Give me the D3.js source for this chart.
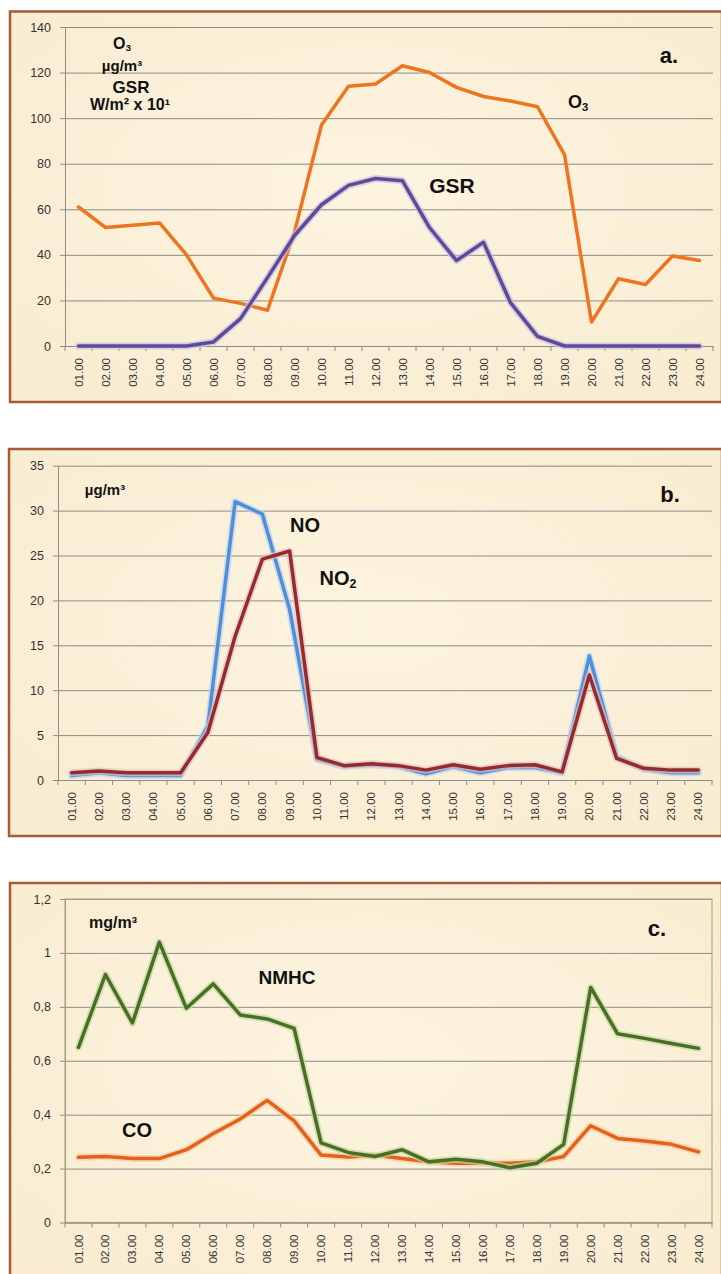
<!DOCTYPE html>
<html>
<head>
<meta charset="utf-8">
<script src="https://cdn.jsdelivr.net/npm/d3@7"></script>
<style>
body{margin:0;background:#fff;}
svg text{font-family:"Liberation Sans",Arial,sans-serif;}
</style>
</head>
<body>
<div id="chart"></div>
<script>
// hours of the day (x categories)
var hours = ["01.00","02.00","03.00","04.00","05.00","06.00","07.00","08.00","09.00","10.00","11.00","12.00",
             "13.00","14.00","15.00","16.00","17.00","18.00","19.00","20.00","21.00","22.00","23.00","24.00"];

// panel a: O3 (µg/m3) and GSR (W/m2 x 10)
var o3  = [61,52,53,54,40,21,18.7,15.7,50,97,114,115,123,120,113.5,109.5,107.5,105,84,10.5,29.5,27,39.5,37.5];
var gsr = [0,0,0,0,0,1.8,12,30,48.5,62,70.5,73.5,72.5,52,37.5,45.5,19,4.2,0,0,0,0,0,0];

// panel b: NO and NO2 (µg/m3)
var no  = [0.5,0.8,0.5,0.5,0.5,6,31,29.6,19,2.3,1.5,1.7,1.5,0.7,1.5,0.8,1.4,1.4,0.8,13.8,2.6,1.2,0.8,0.8];
var no2 = [0.8,1.0,0.8,0.8,0.8,5.3,16,24.6,25.5,2.5,1.6,1.8,1.6,1.1,1.7,1.2,1.6,1.7,0.9,11.7,2.4,1.3,1.1,1.1];

// panel c: NMHC and CO (mg/m3)
var nmhc = [0.65,0.92,0.74,1.04,0.795,0.885,0.77,0.755,0.72,0.295,0.26,0.245,0.27,0.225,0.235,0.225,0.203,0.22,0.29,0.872,0.70,0.683,0.664,0.646];
var co   = [0.242,0.245,0.237,0.237,0.27,0.33,0.384,0.453,0.377,0.25,0.243,0.25,0.237,0.225,0.22,0.22,0.22,0.225,0.245,0.359,0.312,0.302,0.29,0.262];

// y ticks
var ticksA = [0,20,40,60,80,100,120,140];
var ticksB = [0,5,10,15,20,25,30,35];
var ticksC = [0,0.2,0.4,0.6,0.8,1,1.2];

var svg = d3.select('#chart').append('svg')
    .attr('width',721)
    .attr('height',1274);

var defs = svg.append('defs');
var grad = defs.append('radialGradient').attr('id','paper').attr('cx','50%').attr('cy','45%').attr('r','75%');
grad.append('stop').attr('offset','0%').attr('stop-color','#fdf4e0');
grad.append('stop').attr('offset','100%').attr('stop-color','#f8ebcf');

var panels = [
  {frame:{x:10,y:11.5,w:712,h:390.5}, plot:{l:65,r:713,t:27,b:346}, ticks:ticksA, box:false,
   series:[{v:o3,color:'#ef7420',halo:null},
           {v:gsr,color:'#5e4b98',halo:'#c9bde6'}],
   labels:[{p:[['O'],['3',1]],x:122,y:49,s:16},
           {p:[['µg/m³']],x:122,y:71,s:15},
           {p:[['GSR']],x:131,y:93,s:17},
           {p:[['W/m² x 10¹']],x:130,y:110,s:16},
           {p:[['a.']],x:669,y:63,s:22},
           {p:[['O'],['3',1]],x:578,y:108,s:18},
           {p:[['GSR']],x:452,y:193,s:21}]},
  {frame:{x:9,y:449,w:713,h:387}, plot:{l:58,r:712,t:465.7,b:780}, ticks:ticksB, box:false,
   series:[{v:no,color:'#4f8fd8',halo:'#bcd3ee'},
           {v:no2,color:'#962a2c',halo:'#e3c2c2'}],
   labels:[{p:[['µg/m³']],x:105,y:495,s:15},
           {p:[['NO']],x:305,y:532,s:20},
           {p:[['NO'],['2',1]],x:338,y:585,s:20},
           {p:[['b.']],x:670,y:502,s:22}]},
  {frame:{x:10,y:883,w:712,h:400}, plot:{l:65,r:712,t:899,b:1222.5}, ticks:ticksC, box:true,
   series:[{v:co,color:'#e2621a',halo:'#f5cfa8'},
           {v:nmhc,color:'#4b6d27',halo:'#c3dca0'}],
   labels:[{p:[['mg/m³']],x:113,y:928,s:16},
           {p:[['NMHC']],x:287,y:984,s:19},
           {p:[['CO']],x:137,y:1137,s:20},
           {p:[['c.']],x:657,y:936,s:22}]}
];

panels.forEach(function(pn){
  var f = pn.frame, p = pn.plot;

  svg.append('rect')
    .attr('x',f.x).attr('y',f.y).attr('width',f.w).attr('height',f.h)
    .attr('fill','url(#paper)')
    .attr('stroke','#a85a32')
    .attr('stroke-width',2.5);

  var x = d3.scaleBand().domain(hours).range([p.l,p.r]);
  var y = d3.scaleLinear().domain([0,d3.max(pn.ticks)]).range([p.b,p.t]);

  // y axis + gridlines
  var ya = svg.append('g')
    .attr('transform','translate('+p.l+',0)')
    .call(d3.axisLeft(y).tickValues(pn.ticks).tickSizeInner(-(p.r-p.l)).tickSizeOuter(0).tickPadding(14)
      .tickFormat(function(d){return String(d).replace('.',',');}));
  ya.select('.domain').attr('stroke','#8c8c8c');
  ya.selectAll('.tick line').attr('x1',-5).attr('stroke','#8c8c8c');
  ya.selectAll('.tick text').attr('fill','#333').style('font-size','12.5px');

  if(pn.box){
    svg.append('rect')
      .attr('x',p.l).attr('y',p.t).attr('width',p.r-p.l).attr('height',p.b-p.t)
      .attr('fill','none').attr('stroke','#a7b477').attr('stroke-width',1.2);
  }

  // x axis
  var xa = svg.append('g')
    .attr('transform','translate(0,'+p.b+')')
    .call(d3.axisBottom(x).tickSize(0).tickPadding(0));
  xa.select('.domain').attr('stroke','#8c8c8c');
  xa.selectAll('.tick text')
    .attr('transform','rotate(-90)')
    .attr('text-anchor','end')
    .attr('x',-12).attr('y',0).attr('dy','0.35em')
    .attr('fill','#333')
    .style('font-size','11.5px');
  xa.selectAll('.bound').data(hours.concat(['end'])).enter().append('line')
    .attr('class','bound')
    .attr('x1',function(d){return d==='end'?p.r:x(d);})
    .attr('x2',function(d){return d==='end'?p.r:x(d);})
    .attr('y1',0).attr('y2',5)
    .attr('stroke','#8c8c8c');

  var line = d3.line()
    .x(function(d,i){return x(hours[i])+x.bandwidth()/2;})
    .y(function(d){return y(d);});

  pn.series.forEach(function(s){
    if(s.halo){
      svg.append('path').datum(s.v)
        .attr('d',line).attr('fill','none')
        .attr('stroke',s.halo).attr('stroke-width',7)
        .attr('stroke-linejoin','round').attr('stroke-linecap','round')
        .attr('opacity',0.7);
    }
    svg.append('path').datum(s.v)
      .attr('d',line).attr('fill','none')
      .attr('stroke',s.color).attr('stroke-width',3.5)
      .attr('stroke-linejoin','round').attr('stroke-linecap','round');
  });

  pn.labels.forEach(function(l){
    var t = svg.append('text')
      .attr('x',l.x).attr('y',l.y)
      .attr('text-anchor','middle')
      .attr('font-weight','bold')
      .attr('fill','#111')
      .style('font-size',l.s+'px');
    l.p.forEach(function(part){
      var ts = t.append('tspan').text(part[0]);
      if(part[1]) ts.style('font-size',(l.s*0.62)+'px').attr('dy','0.25em');
    });
  });
});
</script>
</body>
</html>
